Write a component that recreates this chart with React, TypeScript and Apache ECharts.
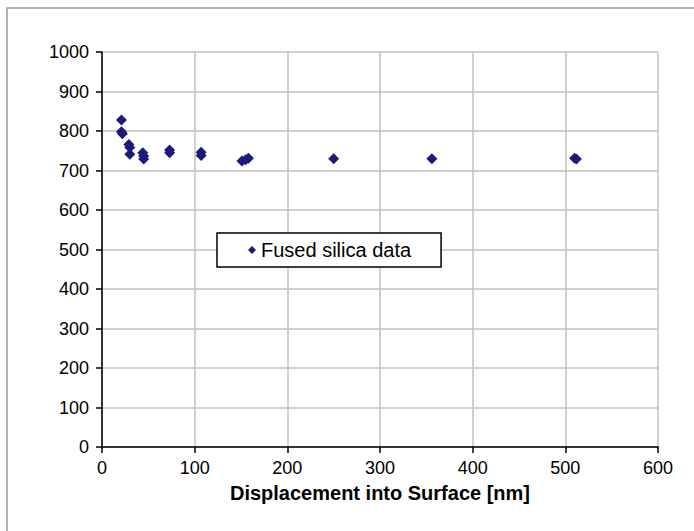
import React, { useEffect, useRef } from "react";
import * as echarts from "echarts";

const displacement: number[] = [21, 21, 22, 29, 30, 30, 44, 45, 45, 73, 73, 107, 107, 151, 155, 158, 250, 356, 510, 512];
const hardness: number[] = [828, 798, 793, 766, 758, 741, 745, 737, 729, 752, 745, 746, 738, 724, 727, 731, 730, 730, 731, 729];
const seriesName = "Fused silica data";
const xTitle = "Displacement into Surface [nm]";

export default function App() {
  const ref = useRef<HTMLDivElement>(null);
  useEffect(() => {
    if (!ref.current) return;
    const chart = echarts.init(ref.current, null, { renderer: "svg" });
    const data = displacement.map((x, i) => [x, hardness[i]]);
    const font = "Liberation Sans, Arial, sans-serif";
    chart.setOption({
      animation: false,
      backgroundColor: "#ffffff",
      grid: { left: 102, top: 52, width: 556, height: 395 },
      graphic: [
        {
          type: "rect",
          shape: { x: 7, y: 8, width: 720, height: 560 },
          style: { fill: "none", stroke: "#9a9a9a", lineWidth: 1.5 },
          silent: true,
        },
      ],
      legend: {
        show: true,
        left: 217,
        top: 233,
        padding: [7, 30, 7, 31],
        orient: "horizontal",
        backgroundColor: "#ffffff",
        borderColor: "#000000",
        borderWidth: 1.5,
        borderRadius: 0,
        itemWidth: 8,
        itemHeight: 8,
        itemGap: 0,
        icon: "diamond",
        textStyle: { fontFamily: font, fontSize: 20, color: "#000000", padding: [2, 0, 0, 0] },
        data: [seriesName],
      },
      xAxis: {
        type: "value",
        min: 0,
        max: 600,
        interval: 100,
        name: xTitle,
        nameLocation: "middle",
        nameGap: 36,
        nameTextStyle: { fontFamily: font, fontSize: 20, fontWeight: "bold", color: "#000000" },
        axisLine: { show: true, onZero: false, lineStyle: { color: "#000000", width: 1.5 } },
        axisTick: { show: true, inside: false, length: 6, lineStyle: { color: "#000000", width: 1.5 } },
        axisLabel: { margin: 12, fontFamily: font, fontSize: 18, color: "#000000" },
        splitLine: { show: true, lineStyle: { color: "#c4c1bf", width: 1.5 } },
      },
      yAxis: {
        type: "value",
        min: 0,
        max: 1000,
        interval: 100,
        axisLine: { show: true, onZero: false, lineStyle: { color: "#000000", width: 1.5 } },
        axisTick: { show: true, inside: false, length: 6, lineStyle: { color: "#000000", width: 1.5 } },
        axisLabel: {
          margin: 13,
          fontFamily: font,
          fontSize: 18,
          color: "#000000",
          formatter: (v: number) => String(v),
        },
        splitLine: { show: true, lineStyle: { color: "#c4c1bf", width: 1.5 } },
      },
      series: [
        {
          name: seriesName,
          type: "scatter",
          symbol: "diamond",
          symbolSize: 11,
          itemStyle: { color: "#1c1c78", opacity: 1 },
          data,
        },
      ],
    });
    return () => chart.dispose();
  }, []);
  return (
    <div
      ref={ref}
      style={{ position: "fixed", left: 0, top: 0, width: 694, height: 531 }}
    />
  );
}
